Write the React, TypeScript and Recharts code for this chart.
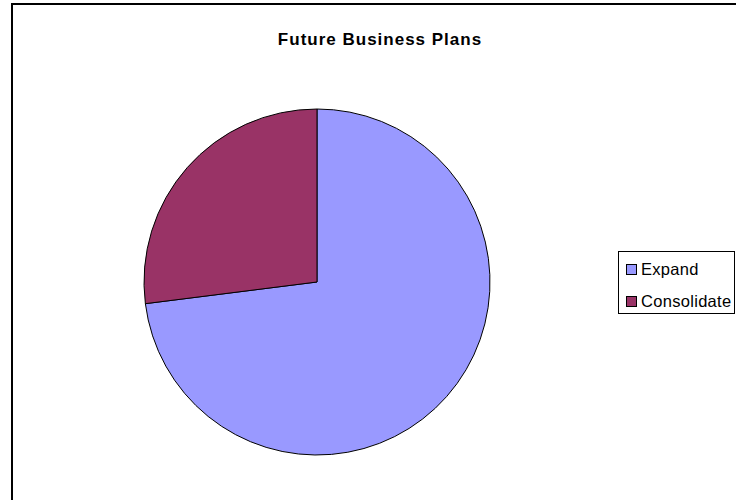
import { Cell, Legend, Pie, PieChart } from "recharts";

const plans = ["Expand", "Consolidate"];
const shares = [73, 27];
const colors = ["#9999FF", "#993366"];

const data = plans.map((name, i) => ({ name, value: shares[i] }));

const font = "'Liberation Sans', Arial, sans-serif";

function LegendBox() {
  return (
    <div
      style={{
        width: 117,
        height: 63,
        border: "1px solid #000",
        background: "#fff",
        fontFamily: font,
        fontSize: 16.5,
        letterSpacing: 0.3,
        color: "#000",
        boxSizing: "border-box",
        paddingLeft: 7,
        paddingTop: 1,
        overflow: "hidden",
      }}
    >
      {plans.map((p, i) => (
        <div
          key={p}
          style={{ display: "flex", alignItems: "center", height: 32, lineHeight: "32px" }}
        >
          <span
            style={{
              display: "inline-block",
              width: 9,
              height: 9,
              border: "1px solid #000",
              background: colors[i],
              marginRight: 4,
            }}
          />
          {p}
        </div>
      ))}
    </div>
  );
}

export default function App() {
  return (
    <div
      style={{
        position: "absolute",
        left: 0,
        top: 0,
        width: 736,
        height: 500,
        overflow: "hidden",
        background: "#fff",
      }}
    >
      <div
        style={{
          position: "absolute",
          left: 11,
          top: 3,
          width: 800,
          height: 600,
          border: "2px solid #000",
        }}
      />
      <div
        style={{
          position: "absolute",
          top: 30,
          left: 0,
          width: 760,
          textAlign: "center",
          fontFamily: font,
          fontWeight: "bold",
          fontSize: 17,
          letterSpacing: 1,
          color: "#000",
        }}
      >
        Future Business Plans
      </div>
      <div style={{ position: "absolute", left: 0, top: 0 }}>
        <PieChart width={736} height={500} margin={{ top: 0, right: 0, bottom: 0, left: 0 }}>
          <Pie
            data={data}
            dataKey="value"
            nameKey="name"
            cx={317}
            cy={282}
            outerRadius={173}
            startAngle={90}
            endAngle={-270}
            stroke="#000"
            strokeWidth={1}
            isAnimationActive={false}
            label={false}
          >
            {data.map((d, i) => (
              <Cell key={d.name} fill={colors[i]} />
            ))}
          </Pie>
          <Legend
            content={<LegendBox />}
            wrapperStyle={{ left: 618, top: 251, width: 117 }}
          />
        </PieChart>
      </div>
    </div>
  );
}
